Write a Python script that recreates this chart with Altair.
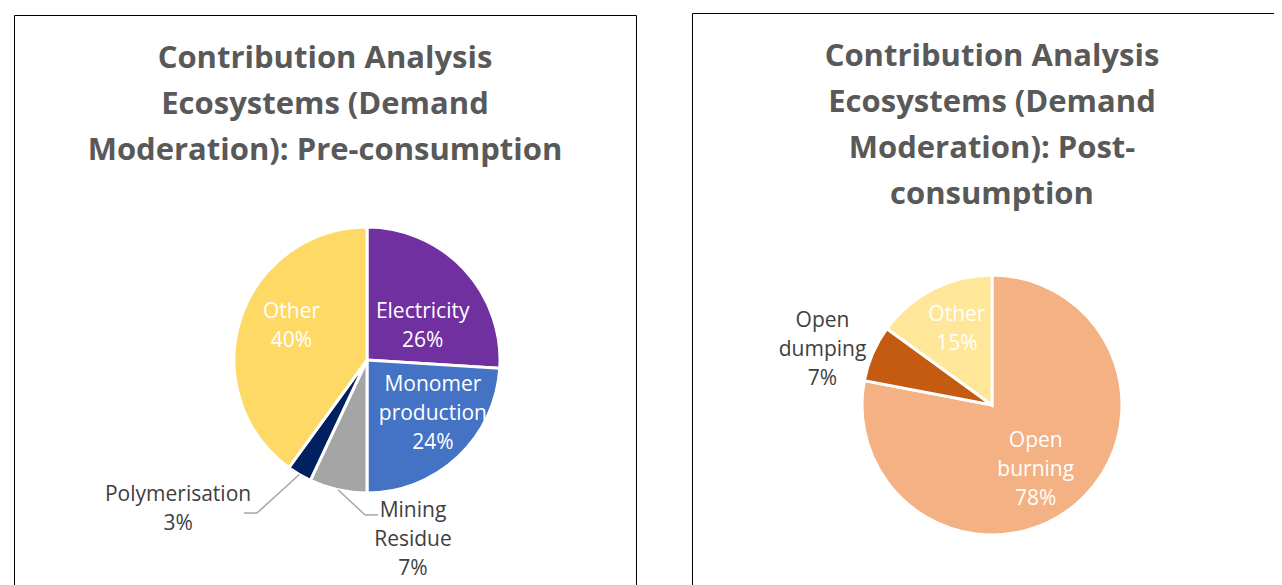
import altair as alt
import pandas as pd

# ---------------- data ----------------
pre_categories = ["Electricity", "Monomer production", "Mining Residue", "Polymerisation", "Other"]
pre_label_names = ["Electricity", "Monomer\nproduction", "Mining\nResidue", "Polymerisation", "Other"]
pre_values = [26, 24, 7, 3, 40]
pre_colors = ["#7030A0", "#4472C4", "#A5A5A5", "#002060", "#FFD966"]

post_categories = ["Open burning", "Open dumping", "Other"]
post_label_names = ["Open\nburning", "Open\ndumping", "Other"]
post_values = [78, 7, 15]
post_colors = ["#F4B183", "#C55A11", "#FFE699"]

pre_title = ["Contribution Analysis", "Ecosystems (Demand", "Moderation): Pre-consumption"]
post_title = ["Contribution Analysis", "Ecosystems (Demand", "Moderation): Post-", "consumption"]

# ---------------- layout / style ----------------
W, H = 1266, 577
# category -> (angle shift from slice middle in degrees, distance as share of pie radius)
PRE_PLACE = {
    "Electricity": (11.9, 0.49),
    "Monomer production": (-7.5, 0.64),
    "Mining Residue": (-26.9, 1.40),
    "Polymerisation": (21.1, 1.81),
    "Other": (5.75, 0.62),
}
# leader line elbow: (angle shift, share of radius, tail direction)
PRE_LEADER = {
    "Mining Residue": (-11.9, 1.165, 1),
    "Polymerisation": (5.1, 1.417, -1),
}
POST_PLACE = {
    "Open burning": (5.5, 0.60),
    "Open dumping": (-5.5, 1.37),
    "Other": (2.0, 0.64),
}
POST_LEADER = {}

TITLE_FONT = "Open Sans"
LABEL_FONT = "Open Sans"
TITLE_COLOR = "#595959"
DARK_LABEL = "#404040"
LABEL_SIZE = 21
LABEL_LH = 29


def pie_layers(cats, names, values, colors, place, leader, R, cx, cy):
    rows = []
    for i, (c, n, v) in enumerate(zip(cats, names, values)):
        sh, rf = place[c]
        ls, lrf, ld = leader.get(c, (0.0, 1.0, 0))
        rows.append(dict(cat=c, name=n, value=v, order=i, shift=sh, rf=rf,
                         lshift=ls, lrf=lrf, ldir=ld, lead=1 if c in leader else 0))
    df = pd.DataFrame(rows)

    arcs = alt.Chart(df).mark_arc(radius=R, stroke="white", strokeWidth=3).encode(
        theta=alt.Theta("value:Q", stack=True),
        color=alt.Color("cat:N", scale=alt.Scale(domain=cats, range=colors), legend=None),
        order=alt.Order("order:Q"),
        x=alt.value(cx),
        y=alt.value(cy),
    )

    base = (
        alt.Chart(df)
        .transform_joinaggregate(total="sum(value)")
        .transform_window(cum="sum(value)", sort=[alt.SortField("order")], frame=[None, 0])
        .transform_calculate(mid="(datum.cum - datum.value/2)/datum.total*2*PI")
        .transform_calculate(
            a="datum.mid + datum.shift*PI/180",
            la="datum.mid + datum.lshift*PI/180",
            label="datum.name + '\\n' + datum.value + '%'",
        )
        .transform_calculate(nlines="length(split(datum.label, '\\n'))")
        .transform_calculate(
            lx=f"{cx} + datum.rf*{R}*sin(datum.a)",
            ly=f"{cy} - datum.rf*{R}*cos(datum.a) - (datum.nlines - 1)*{LABEL_LH}/2",
            p0x=f"{cx} + {R}*sin(datum.mid)",
            p0y=f"{cy} - {R}*cos(datum.mid)",
            p1x=f"{cx} + datum.lrf*{R}*sin(datum.la)",
            p1y=f"{cy} - datum.lrf*{R}*cos(datum.la)",
        )
        .transform_calculate(p2x="datum.p1x + datum.ldir*13")
    )

    xs = lambda f: alt.X(f + ":Q", scale=None, axis=None)
    ys = lambda f: alt.Y(f + ":Q", scale=None, axis=None)

    inside = base.transform_filter("datum.rf < 1").mark_text(
        font=LABEL_FONT, fontSize=LABEL_SIZE, lineHeight=LABEL_LH, color="white",
        align="center", baseline="middle", lineBreak="\n",
    ).encode(x=xs("lx"), y=ys("ly"), text="label:N")

    outside = base.transform_filter("datum.rf >= 1").mark_text(
        font=LABEL_FONT, fontSize=LABEL_SIZE, lineHeight=LABEL_LH, color=DARK_LABEL,
        align="center", baseline="middle", lineBreak="\n",
    ).encode(x=xs("lx"), y=ys("ly"), text="label:N")

    layers = [arcs]
    if leader:
        lead = base.transform_filter("datum.lead == 1")
        layers.append(lead.mark_rule(color="#A6A6A6", strokeWidth=1.5).encode(
            x=xs("p0x"), y=ys("p0y"), x2="p1x:Q", y2="p1y:Q"))
        layers.append(lead.mark_rule(color="#A6A6A6", strokeWidth=1.5).encode(
            x=xs("p1x"), y=ys("p1y"), x2="p2x:Q", y2="p1y:Q"))
    layers += [inside, outside]
    return layers


def title_layer(lines, x, y):
    df = pd.DataFrame({"t": ["\n".join(lines)]})
    return alt.Chart(df).mark_text(
        font=TITLE_FONT, fontSize=31, fontWeight="bold", color=TITLE_COLOR,
        align="center", baseline="alphabetic", lineHeight=46, lineBreak="\n",
    ).encode(text="t:N", x=alt.value(x), y=alt.value(y))


def frame_layer(x1, x2, y1, y2):
    df = pd.DataFrame({"f": [0]})
    return alt.Chart(df).mark_rect(fill=None, fillOpacity=0, stroke="black", strokeWidth=1).encode(
        x=alt.value(x1), x2=alt.value(x2), y=alt.value(y1), y2=alt.value(y2))


frames = [frame_layer(6.5, 628.5, 7.5, 700), frame_layer(684.5, 1400, 5.5, 700)]
titles = [title_layer(pre_title, 317, 60), title_layer(post_title, 984, 58)]

left = pie_layers(pre_categories, pre_label_names, pre_values, pre_colors,
                  PRE_PLACE, PRE_LEADER, 133, 359, 352)
right = pie_layers(post_categories, post_label_names, post_values, post_colors,
                   POST_PLACE, POST_LEADER, 130, 984, 397)

chart = (
    alt.layer(*frames, *titles, *left, *right)
    .resolve_scale(color="independent")
    .properties(
        width=W,
        height=H,
        padding=0,
        autosize=alt.AutoSizeParams(type="none"),
        background="white",
    )
    .configure_view(stroke=None)
)

chart.save("out.html", embed_options={"renderer": "svg", "actions": False})
